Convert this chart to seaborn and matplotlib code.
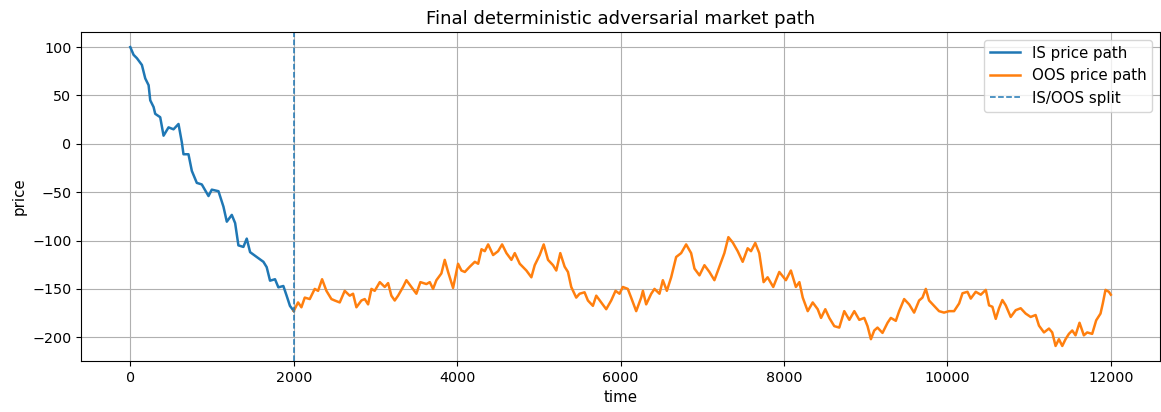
import numpy as np
import pandas as pd
import matplotlib
matplotlib.use("Agg")
import matplotlib.pyplot as plt
import seaborn as sns

# in-sample path
is_time = [0, 40, 81, 142, 183, 224, 244, 285, 305, 366, 407, 468, 529, 590, 631, 651,
           712, 753, 814, 875, 957, 997, 1079, 1140, 1181, 1242, 1283, 1323, 1384, 1425,
           1466, 1547, 1629, 1669, 1710, 1771, 1812, 1873, 1913, 1954, 2000]
is_price = [100, 92, 88.5, 81.5, 67.6, 60.6, 45, 38, 31, 27.5, 8.4, 17, 15, 20.5, 1.4, -10.8,
            -10.8, -28, -40.4, -42, -54, -47.4, -49, -65, -80.5, -73.5, -82, -105, -106.6, -98,
            -112, -117, -122, -127.5, -141.5, -140, -148.4, -147, -157, -167.6, -172.8]

# out-of-sample path
oos_time = [2000, 2053, 2094, 2135, 2196, 2257, 2298, 2347, 2400, 2461, 2502, 2563, 2624, 2685,
            2726, 2767, 2828, 2869, 2910, 2951, 2991, 3053, 3114, 3155, 3195, 3236, 3277, 3338,
            3379, 3440, 3501, 3550, 3624, 3665, 3705, 3746, 3807, 3848, 3889, 3950, 4011, 4052,
            4094, 4155, 4216, 4257, 4298, 4338, 4379, 4440, 4501, 4550, 4603, 4664, 4705, 4766,
            4847, 4908, 4949, 5010, 5059, 5112, 5173, 5213, 5262, 5315, 5356, 5396, 5457, 5498,
            5559, 5600, 5661, 5702, 5763, 5824, 5885, 5938, 5987, 6027, 6088, 6129, 6191, 6252,
            6273, 6313, 6375, 6415, 6476, 6517, 6566, 6619, 6680, 6741, 6802, 6863, 6904, 6965,
            7026, 7087, 7148, 7209, 7270, 7319, 7372, 7433, 7494, 7555, 7596, 7648, 7697, 7750,
            7799, 7868, 7942, 8023, 8084, 8145, 8188, 8229, 8290, 8351, 8412, 8453, 8505, 8554,
            8615, 8676, 8737, 8799, 8860, 8921, 8982, 9022, 9063, 9104, 9144, 9205, 9267, 9307,
            9368, 9409, 9470, 9531, 9592, 9653, 9694, 9735, 9775, 9836, 9897, 9958, 10019, 10081,
            10143, 10184, 10245, 10285, 10346, 10408, 10469, 10509, 10550, 10591, 10631, 10672,
            10713, 10774, 10835, 10896, 10957, 11018, 11079, 11120, 11181, 11242, 11282, 11323,
            11364, 11405, 11445, 11486, 11527, 11567, 11616, 11669, 11710, 11771, 11820, 11873,
            11901, 11934, 11975, 11999]
oos_price = [-172.8, -164, -169, -159, -160.5, -150, -152, -140, -152, -160.5, -162, -164, -152, -157,
             -155, -169, -162, -160.5, -166, -150, -152, -143, -148, -144, -157, -162, -157, -148,
             -141, -148, -155, -143, -145, -143, -150, -141, -134, -120, -132.5, -149, -124, -131,
             -132.5, -127, -122, -124, -109, -111, -104, -115, -111, -104, -113, -120, -113, -124,
             -131, -138, -125.5, -115, -104, -120, -125.5, -131, -113, -127, -132.5, -148, -159, -155,
             -153.5, -162, -167.5, -157, -164, -171, -162, -152, -155, -148, -150, -159, -173, -159,
             -152, -166, -155, -150, -155, -141, -152, -138, -117, -113, -104, -113, -129, -136,
             -125.5, -132.5, -141, -127, -113, -96.5, -102, -111, -122, -108, -111, -102.5, -113, -143,
             -138, -148, -132.5, -141, -131, -148, -143, -159, -173, -164, -171, -180, -171, -180,
             -188.5, -190, -173, -182, -173, -182, -180, -188.5, -202, -193, -190, -195.5, -185, -180,
             -183, -173, -160.5, -166, -174.5, -162, -159, -150, -162, -167.5, -173, -174.5, -173, -173,
             -165, -154.5, -153, -160, -153, -156, -151, -167, -168.5, -181, -170, -161.5,
             -167, -179, -172, -170, -175.5, -179, -177, -188, -195, -191, -195, -209,
             -202, -209, -202, -196.5, -193, -198, -185, -198, -195, -196.5, -182.5, -175.5,
             -165, -151, -153, -156]

split_time = 2000

plt.rcParams['font.size'] = 10.8

fig, ax = plt.subplots(figsize=(11.61, 4.12), dpi=100)
fig.subplots_adjust(left=0.07, right=0.999, top=0.922, bottom=0.124)

sns.lineplot(x=is_time, y=is_price, ax=ax, label="IS price path", color="C0", linewidth=1.8)
sns.lineplot(x=oos_time, y=oos_price, ax=ax, label="OOS price path", color="C1", linewidth=1.8)
ax.axvline(split_time, linestyle="--", linewidth=1.1, color="C0", label="IS/OOS split")

ax.set_title("Final deterministic adversarial market path")
ax.set_xlabel("time")
ax.set_ylabel("price")
ax.tick_params(labelsize=10.3)
ax.grid(True)
ax.legend(loc="upper right")

plt.savefig("out.png")
